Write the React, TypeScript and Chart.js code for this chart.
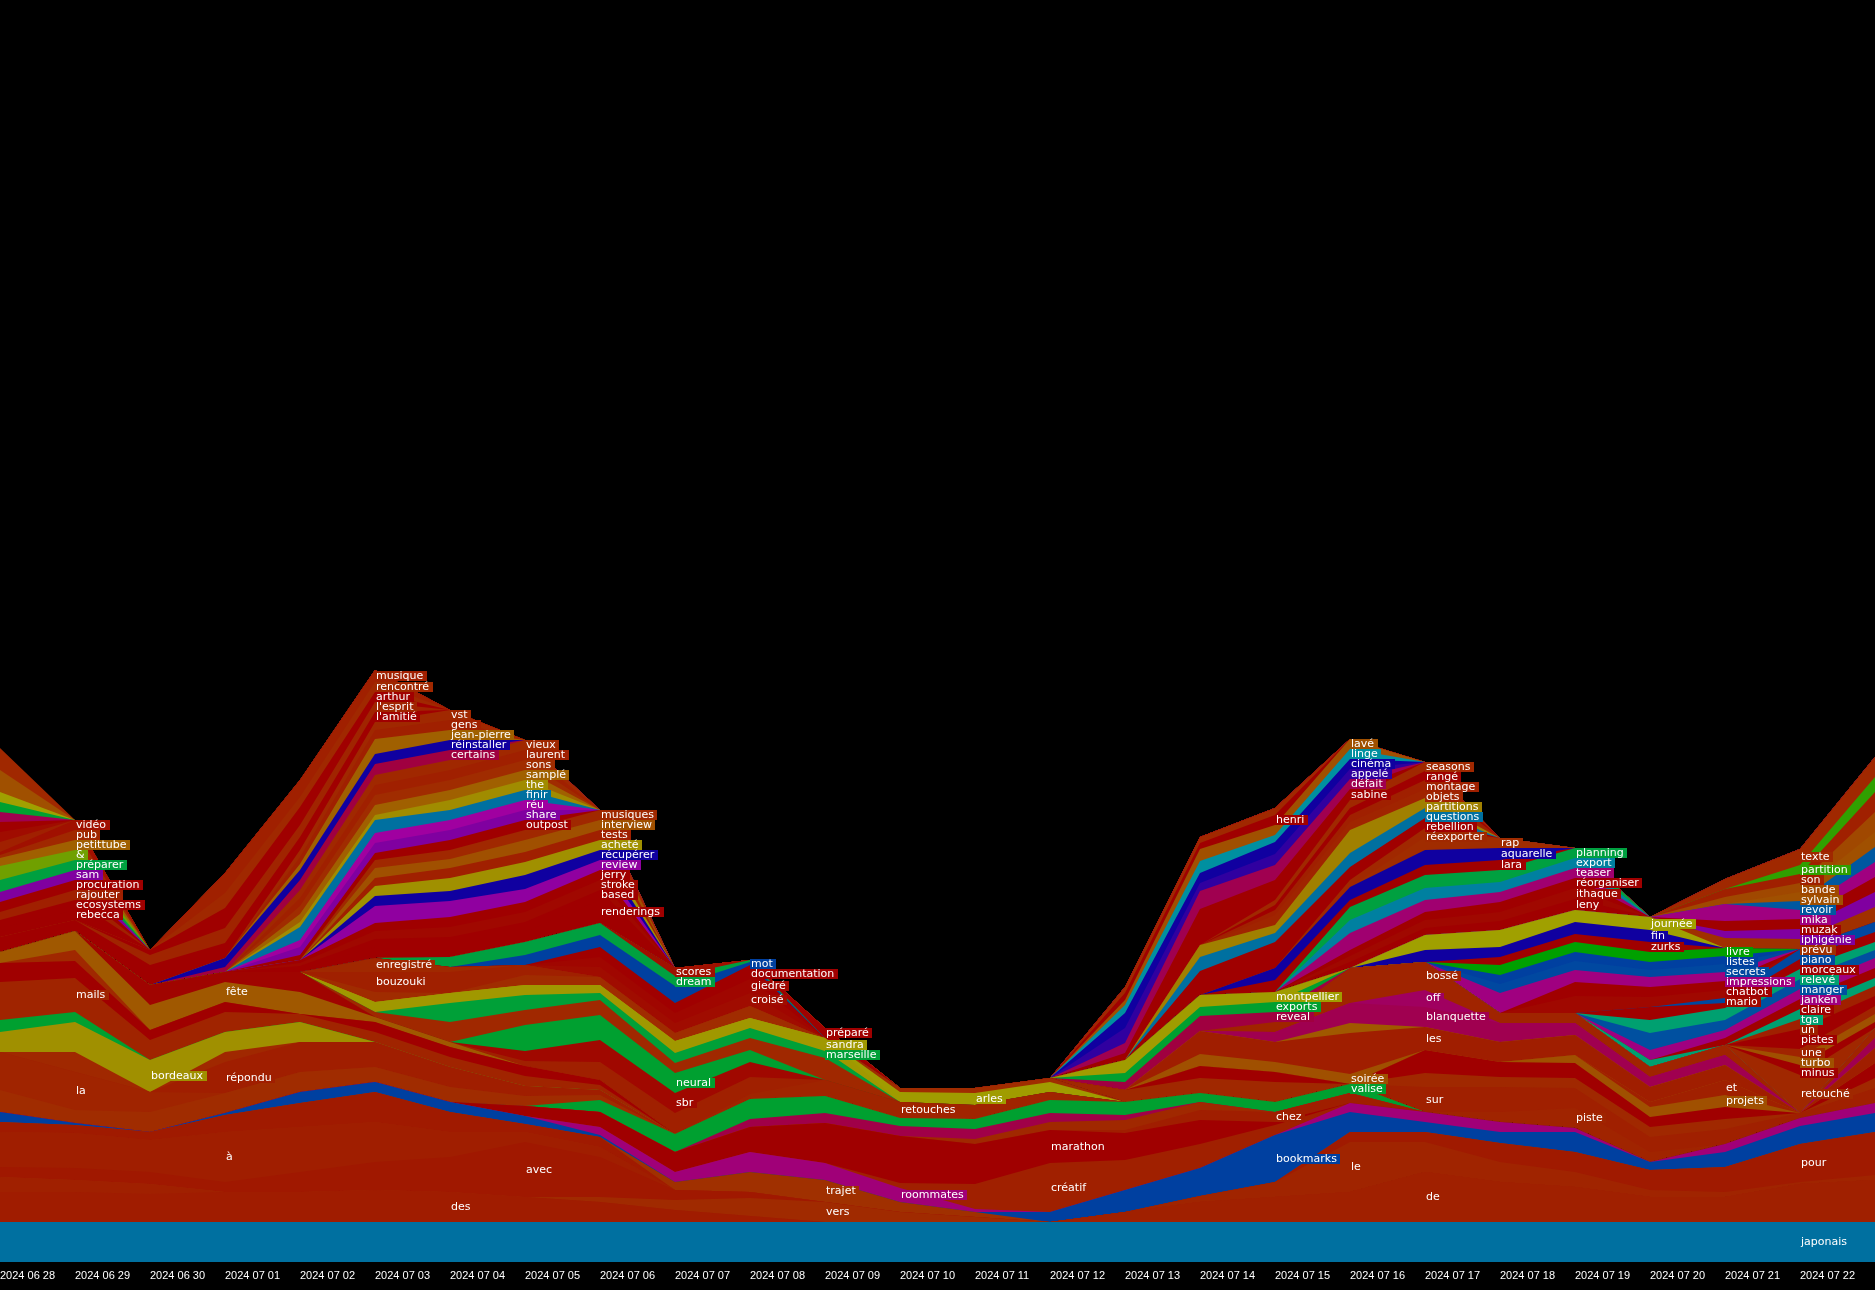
import React, { useEffect, useRef } from "react";
import { Chart, registerables } from "chart.js";

Chart.register(...registerables);

const DATES = [
  "2024 06 28", "2024 06 29", "2024 06 30", "2024 07 01", "2024 07 02", "2024 07 03",
  "2024 07 04", "2024 07 05", "2024 07 06", "2024 07 07", "2024 07 08", "2024 07 09",
  "2024 07 10", "2024 07 11", "2024 07 12", "2024 07 13", "2024 07 14", "2024 07 15",
  "2024 07 16", "2024 07 17", "2024 07 18", "2024 07 19", "2024 07 20", "2024 07 21",
  "2024 07 22", "2024 07 23",
];

// [word, colour, date index of its label (-1 = none), first date index, values...]
type Layer = [string, string, number, number, number[]];

const BOTTOM: Layer[] = [
  ["japonais", "#0070a0", 24, 0, [40, 40, 40, 40, 40, 40, 40, 40, 40, 40, 40, 40, 40, 40, 40, 40, 40, 40, 40, 40, 40, 40, 40, 40, 40, 40]],
  ["des", "#a01c00", 6, 0, [30, 30, 28, 30, 30, 32, 30, 25, 20, 12, 6]],
  ["de", "#a02000", 19, 0, [15, 12, 10, 0, 0, 0, 0, 0, 0, 0, 0, 0, 0, 0, 0, 10, 20, 25, 30, 50, 40, 35, 25, 25, 38, 42]],
  ["vers", "#a02a00", 11, 8, [5, 10, 18, 20, 10, 5]],
  ["avec", "#a01800", 7, 0, [10, 12, 12, 10, 20, 28, 35, 55, 40, 10, 6]],
  ["à", "#a01e00", 3, 0, [35, 35, 32, 50, 45, 40, 25, 10, 10]],
  ["le", "#a02400", 18, 16, [6, 15, 50, 30, 20, 15, 7, 5, 2, 5]],
  ["pour", "#a01a00", 24, 0, [10, 8, 8, 17, 24, 30, 20, 8, 10, 0, 0, 0, 0, 0, 0, 0, 0, 0, 10, 10, 19, 20, 20, 25, 38, 43]],
  ["trajet", "#a03000", 11, 9, [8, 20, 22, 10, 5]],
  ["bookmarks", "#0040a0", 17, 0, [10, 2, 0, 2, 11, 10, 10, 8, 2, 0, 0, 0, 0, 0, 10, 22, 28, 47, 20, 10, 11, 20, 8, 15, 18, 19]],
  ["roommates", "#a00078", 12, 8, [8, 10, 20, 17, 14, 3, 0, 0, 0, 0, 9, 10, 10, 4, 0, 8, 8, 10]],
  ["créatif", "#a02000", 14, 12, [5, 25, 49, 30, 24, 10]],
  ["marathon", "#a00000", 14, 7, [10, 15, 20, 25, 40, 47, 40, 33, 27, 24, 3]],
  ["chez", "#a01e00", 17, 15, [3, 10, 10, 10]],
  ["", "#a02800", -1, 13, [5, 8, 10, 8]],
  ["", "#a00048", -1, 10, [8, 10, 10, 10, 9, 5]],
  ["valise", "#00a030", 18, 8, [12, 18, 20, 17, 8, 10, 13, 13, 9, 10, 9]],
];

const LEFT_MID: Layer[] = [
  ["", "#a02c00", -1, 0, [22, 13, 20, 20, 20, 15, 15, 10, 5]],
  ["la", "#a02400", 1, 0, [38, 38, 20]],
  ["répondu", "#a01e00", 3, 3, [31, 30, 25, 20, 10, 5]],
  ["", "#a02800", -1, 1, [20, 0, 10]],
  ["bordeaux", "#a09000", 2, 0, [20, 30, 32, 20, 20]],
  ["", "#00a030", -1, 0, [12, 10]],
  ["mails", "#a02400", 1, 0, [38, 34, 20, 20, 8, 10, 10, 10, 5]],
  ["", "#a00000", -1, 0, [19, 17, 10, 10, 0, 10, 10, 10, 5]],
  ["", "#a02800", -1, 1, [11]],
  ["fête", "#a05800", 3, 0, [11, 19, 25, 20, 22, 5, 5]],
  ["", "#a00400", -1, 2, [20, 10, 20]],
];

const CENTER: Layer[] = [
  ["retouches", "#a02400", 12, 10, [5, 16, 16, 14, 8]],
  ["", "#a02000", -1, 7, [5, 18, 21, 17]],
  ["sbr", "#a00800", 9, 7, [10, 22, 20, 15]],
  ["neural", "#00a030", 9, 7, [26, 25, 20, 12]],
  ["", "#a02800", -1, 5, [5, 20, 15, 15, 10, 12, 22]],
  ["marseille", "#00a038", 11, 6, [19, 15, 7, 10, 10, 7]],
  ["sandra", "#a09800", 11, 5, [10, 10, 10, 8, 12, 10, 13]],
  ["arles", "#a09c00", 13, 12, [10, 12, 10]],
  ["", "#a02c00", -1, 5, [10, 0, 10, 8, 8, 12, 0, 4, 5, 4]],
  ["bouzouki", "#a02000", 5, 5, [20, 21, 10]],
  ["enregistré", "#a02800", 5, 5, [14, 5]],
  ["croisé", "#a00c00", 10, 8, [10, 10, 13]],
  ["giedré", "#a00600", 10, 8, [10, 10, 14]],
  ["documentation", "#a00000", 10, 8, [10, 10, 14]],
  ["mot", "#0040a0", 10, 7, [10, 12, 17, 3]],
  ["dream", "#00a040", 9, 6, [10, 13, 12, 10, 2]],
  ["scores", "#a01000", 9, 9, [8]],
  ["préparé", "#a00000", 11, 11, [10]],
];

const RIGHT_LOWER: Layer[] = [
  ["piste", "#a02400", 21, 20, [10, 20, 10]],
  ["sur", "#a02000", 19, 19, [25, 25, 20, 15, 15, 5, 15]],
  ["", "#a02800", -1, 15, [12, 15, 20, 0, 14, 10, 10, 10, 10, 0, 10]],
  ["", "#a00000", -1, 16, [12, 10, 0, 23, 15, 15, 10, 12, 0, 15]],
  ["projets", "#a05000", 23, 21, [8, 10, 12, 0]],
  ["et", "#a02000", 23, 22, [5, 15]],
  ["soirée", "#a05000", 18, 16, [12, 10, 10]],
  ["les", "#a01e00", 19, 16, [23, 20, 41, 23, 20, 20, 15, 15, 0, 15]],
  ["", "#a05800", -1, 18, [10]],
  ["blanquette", "#a00050", 19, 17, [10, 20, 20, 19, 12, 10, 10, 0, 10]],
  ["off", "#a00060", 19, 19, [17]],
  ["bossé", "#a02400", 19, 17, [10, 35, 28, 10, 10, 10, 10, 0, 10]],
  ["reveal", "#a00040", 17, 15, [8, 15, 10]],
  ["exports", "#00a030", 17, 15, [9, 9, 10]],
  ["montpellier", "#a09c00", 17, 15, [13, 12, 10]],
];

const RIGHT_UPPER: Layer[] = [
  ["retouché", "#a02800", 24, 24, [38, 0]],
  ["minus", "#a00000", 24, 24, [10, 6]],
  ["turbo", "#a05000", 24, 24, [8, 8]],
  ["une", "#a02400", 24, 24, [8, 8]],
  ["pistes", "#a00000", 24, 24, [20, 10]],
  ["un", "#a02000", 24, 24, [10, 10]],
  ["tga", "#00a070", 24, 22, [7, 0, 10, 8]],
  ["claire", "#a00000", 24, 23, [7, 10, 10]],
  ["janken", "#a00080", 24, 22, [10, 8, 10, 10]],
  ["manger", "#0050a0", 24, 22, [17, 10, 10, 8]],
  ["relevé", "#00a070", 24, 22, [13, 12, 10, 8]],
  ["morceaux", "#a00000", 24, 22, [13, 5, 10, 10]],
  ["piano", "#0048a0", 24, 23, [5, 10, 10]],
  ["mario", "#a00800", 23, 20, [0, 17, 10, 8]],
  ["chatbot", "#a00000", 23, 20, [0, 14, 10, 9]],
  ["impressions", "#a00080", 23, 20, [20, 12, 10, 9]],
  ["secrets", "#0048a0", 23, 20, [9, 9, 7, 8]],
  ["listes", "#0040a0", 23, 20, [9, 9, 8, 8]],
  ["livre", "#00a000", 23, 20, [10, 10, 10, 8]],
  ["zurks", "#a00000", 22, 20, [8, 8, 10]],
  ["fin", "#1000a0", 22, 19, [12, 10, 12, 12]],
  ["journée", "#a0a000", 22, 19, [15, 17, 12, 13]],
  ["prévu", "#a03000", 24, 23, [10, 10, 15]],
  ["iphigénie", "#8000a0", 24, 23, [7, 10, 15]],
  ["muzak", "#a00000", 24, 23, [10, 10, 15]],
  ["mika", "#a00080", 24, 23, [17, 9, 15]],
  ["revoir", "#0058a0", 24, 23, [0, 9, 15]],
  ["sylvain", "#a05000", 24, 23, [0, 9, 15]],
  ["bande", "#a04800", 24, 23, [7, 9, 20]],
  ["son", "#a02000", 24, 23, [8, 9, 20]],
  ["partition", "#30a000", 24, 23, [0, 9, 15]],
  ["texte", "#a02800", 24, 23, [10, 16, 20]],
  ["leny", "#a00000", 21, 18, [6, 7, 9, 11]],
  ["ithaque", "#a00800", 21, 18, [6, 8, 9, 11]],
  ["réorganiser", "#a00000", 21, 18, [6, 8, 10, 10]],
  ["teaser", "#a00070", 21, 18, [17, 12, 10, 10]],
  ["export", "#0080a0", 21, 18, [13, 12, 10, 10]],
  ["planning", "#00a040", 21, 18, [13, 13, 12, 10]],
  ["lara", "#a00000", 20, 17, [12, 7, 10, 10]],
  ["aquarelle", "#1000a0", 20, 17, [12, 13, 15, 12]],
  ["rap", "#a02c00", 20, 17, [0, 0, 13, 10]],
  ["réexporter", "#a02800", 19, 16, [0, 0, 7, 9]],
  ["rebellion", "#a00000", 19, 16, [24, 26, 13, 10]],
  ["questions", "#0070a0", 19, 16, [14, 9, 14, 10]],
  ["partitions", "#a08000", 19, 16, [12, 8, 23, 10]],
  ["objets", "#a02400", 19, 16, [0, 10, 8, 9]],
  ["montage", "#a02000", 19, 16, [0, 5, 7, 9]],
  ["rangé", "#a00000", 19, 16, [0, 5, 7, 9]],
  ["seasons", "#a02800", 19, 16, [0, 5, 8, 9]],
  ["sabine", "#a00000", 18, 15, [7, 36, 20, 11]],
  ["défait", "#a00050", 18, 15, [10, 18, 15, 10]],
  ["appelé", "#3000a0", 18, 15, [15, 8, 11, 10]],
  ["cinéma", "#1000a0", 18, 15, [15, 10, 12, 10]],
  ["linge", "#0090a0", 18, 15, [8, 12, 7, 10]],
  ["lavé", "#a05000", 18, 15, [5, 12, 10, 10]],
  ["henri", "#a00000", 17, 15, [7, 6, 10]],
  ["", "#a02800", -1, 15, [6, 6, 7]],
];

const LEFT_UPPER: Layer[] = [
  ["renderings", "#a00000", 8, 4, [3, 11, 10, 10, 23]],
  ["based", "#a00000", 8, 4, [3, 8, 10, 10, 10]],
  ["stroke", "#a00800", 8, 4, [3, 8, 10, 10, 10]],
  ["jerry", "#a00000", 8, 4, [3, 8, 10, 10, 10]],
  ["review", "#9000a0", 8, 4, [0, 17, 16, 13, 10]],
  ["récupérer", "#1000a0", 8, 4, [0, 10, 10, 14, 10]],
  ["acheté", "#a09000", 8, 4, [0, 10, 13, 13, 10]],
  ["tests", "#a02000", 8, 4, [0, 8, 10, 10, 10]],
  ["interview", "#a05000", 8, 4, [0, 10, 9, 12, 10]],
  ["musiques", "#a02800", 8, 4, [0, 8, 9, 10, 10]],
  ["outpost", "#a00000", 7, 4, [5, 7, 10, 10]],
  ["share", "#8000a0", 7, 4, [8, 10, 10, 10]],
  ["réu", "#a000a0", 7, 4, [7, 10, 10, 10]],
  ["finir", "#0070a0", 7, 4, [13, 13, 10, 10]],
  ["the", "#a08c00", 7, 4, [5, 5, 10, 10]],
  ["samplé", "#a06000", 7, 4, [8, 10, 10, 10]],
  ["sons", "#a02c00", 7, 4, [8, 10, 10, 10]],
  ["laurent", "#a02000", 7, 4, [8, 10, 10, 10]],
  ["vieux", "#a02800", 7, 4, [8, 10, 10, 10]],
  ["certains", "#a00040", 6, 3, [5, 10, 11, 10]],
  ["réinstaller", "#1000a0", 6, 3, [9, 10, 10, 10]],
  ["jean-pierre", "#a06000", 6, 3, [0, 6, 15, 10]],
  ["gens", "#a02000", 6, 3, [0, 7, 9, 10]],
  ["vst", "#a02800", 6, 3, [0, 7, 8, 10]],
  ["l'amitié", "#a00000", 5, 0, [15, 11, 20, 15, 13, 10]],
  ["l'esprit", "#a02400", 5, 0, [0, 0, 10, 15, 12, 10]],
  ["arthur", "#a00000", 5, 0, [0, 0, 5, 20, 18, 10]],
  ["rencontré", "#a02800", 5, 0, [0, 0, 0, 15, 10, 10]],
  ["musique", "#a02000", 5, 0, [0, 0, 0, 20, 17, 12]],
  ["rebecca", "#a00000", 1, 0, [9, 10]],
  ["ecosystems", "#a00000", 1, 0, [8, 10]],
  ["rajouter", "#a02000", 1, 0, [8, 10]],
  ["procuration", "#a00000", 1, 0, [10, 10]],
  ["sam", "#8000a0", 1, 0, [10, 10]],
  ["préparer", "#00a040", 1, 0, [12, 10]],
  ["&", "#70a000", 1, 0, [14, 10]],
  ["petittube", "#a06000", 1, 0, [8, 10]],
  ["pub", "#a02800", 1, 0, [3, 10]],
  ["vidéo", "#a01000", 1, 0, [3, 10]],
  ["", "#a02000", -1, 0, [10]],
  ["", "#a00c00", -1, 0, [10]],
  ["", "#a00000", -1, 0, [10]],
  ["", "#a00050", -1, 0, [10]],
  ["", "#00a030", -1, 0, [10]],
  ["", "#a0a000", -1, 0, [10]],
  ["", "#a05000", -1, 0, [22]],
  ["", "#a02800", -1, 0, [22]],
];

const Y_MAX = 1262;
const LAYERS: Layer[] = [...BOTTOM, ...LEFT_MID, ...CENTER, ...RIGHT_LOWER, ...RIGHT_UPPER, ...LEFT_UPPER];

function expand(l: Layer): number[] {
  const arr = new Array(DATES.length).fill(0);
  l[4].forEach((v, k) => {
    arr[l[3] + k] = v;
  });
  return arr;
}

const labelPlugin = {
  id: "streamLabels",
  afterDatasetsDraw(chart: any) {
    const { ctx } = chart;
    const xs = chart.scales.x;
    const ys = chart.scales.y;
    const cum = new Array(DATES.length).fill(0);
    const groups: Record<number, { y: number; text: string; color: string }[]> = {};
    chart.data.datasets.forEach((ds: any, di: number) => {
      const data = ds.data as number[];
      const li = LAYERS[di][2];
      if (li >= 0 && ds.label) {
        const yy = ys.getPixelForValue(cum[li] + data[li] / 2);
        (groups[li] = groups[li] || []).push({ y: yy, text: ds.label, color: ds.backgroundColor });
      }
      data.forEach((v, i) => {
        cum[i] += v;
      });
    });
    ctx.save();
    ctx.font = "11px 'DejaVu Sans'";
    ctx.textBaseline = "middle";
    ctx.textAlign = "left";
    Object.keys(groups).forEach((k) => {
      const i = Number(k);
      const xx = Math.round(xs.getPixelForValue(i));
      const items = groups[i].sort((a, b) => a.y - b.y);
      let prev = -Infinity;
      items.forEach((it) => {
        const yy = Math.max(it.y, prev + 10);
        prev = yy;
        const w = Math.ceil(ctx.measureText(it.text).width);
        ctx.fillStyle = it.color;
        ctx.fillRect(xx, Math.round(yy - 5), w + 4, 10);
        ctx.fillStyle = "#ffffff";
        ctx.fillText(it.text, xx + 1, Math.round(yy) + 0.5);
      });
    });
    ctx.restore();
  },
};

export default function App() {
  const ref = useRef<HTMLCanvasElement | null>(null);
  useEffect(() => {
    document.body.style.margin = "0";
    document.body.style.background = "#000";
    if (!ref.current) return;
    const chart = new Chart(ref.current, {
      type: "line",
      data: {
        labels: DATES,
        datasets: LAYERS.map((l) => ({
          label: l[0],
          data: expand(l),
          backgroundColor: l[1],
          borderColor: l[1],
          borderWidth: 0,
          showLine: false,
          fill: "origin",
          pointRadius: 0,
          pointHoverRadius: 0,
          tension: 0,
        })),
      },
      options: {
        animation: false,
        responsive: false,
        devicePixelRatio: 1,
        events: [],
        layout: { padding: 0 },
        plugins: { legend: { display: false }, tooltip: { enabled: false } },
        scales: {
          x: {
            type: "category",
            offset: false,
            grid: { display: false, drawTicks: false },
            border: { display: false },
            ticks: {
              color: "#ffffff",
              font: { family: "'Liberation Sans', Arial, sans-serif", size: 11 },
              align: "start",
              autoSkip: false,
              maxRotation: 0,
              minRotation: 0,
              padding: 7,
              callback: (_v: any, i: number) => (i === DATES.length - 1 ? "" : DATES[i]),
            },
            afterFit: (s: any) => {
              s.height = 28;
              s.paddingLeft = 0;
              s.paddingRight = 0;
            },
          },
          y: { display: false, stacked: true, min: 0, max: Y_MAX },
        },
      },
      plugins: [labelPlugin],
    } as any);
    return () => chart.destroy();
  }, []);
  return (
    <div style={{ width: 1875, height: 1290, background: "#000" }}>
      <canvas ref={ref} width={1875} height={1290} style={{ display: "block" }} />
    </div>
  );
}
